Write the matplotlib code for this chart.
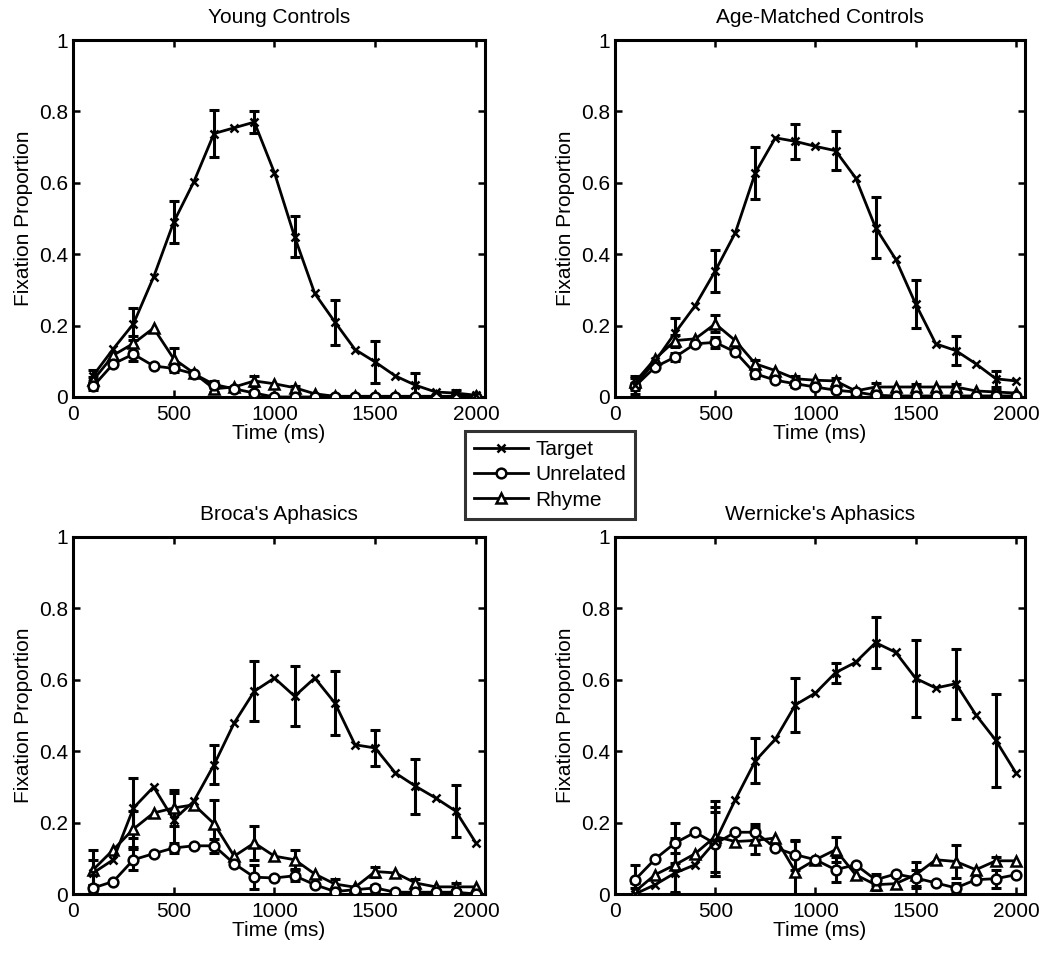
import numpy as np
import matplotlib
matplotlib.use("Agg")
import matplotlib.pyplot as plt
from matplotlib.lines import Line2D

plt.rcParams['font.family'] = ['Liberation Sans', 'DejaVu Sans']

time_ms = np.arange(100, 2001, 100)
titles = ["Young Controls", "Age-Matched Controls", "Broca's Aphasics", "Wernicke's Aphasics"]
series_names = ["Target", "Unrelated", "Rhyme"]
xticks = [0, 500, 1000, 1500, 2000]
yticks = [0, 0.2, 0.4, 0.6, 0.8, 1]
ytick_labels = ["0", "0.2", "0.4", "0.6", "0.8", "1"]

# ---- Young Controls ----
young_target = [0.06, 0.135, 0.205, 0.336, 0.49, 0.603, 0.738, 0.754, 0.77, 0.628,
                0.449, 0.29, 0.21, 0.133, 0.098, 0.059, 0.033, 0.014, 0.011, 0.005]
young_target_err = [0.015, 0, 0.045, 0, 0.06, 0, 0.065, 0, 0.03, 0,
                    0.058, 0, 0.063, 0, 0.06, 0, 0.035, 0, 0.01, 0]
young_unrel = [0.03, 0.093, 0.12, 0.087, 0.08, 0.065, 0.035, 0.023, 0.011, 0.0,
               0.0, 0.0, 0.0, 0.0, 0.0, 0.0, 0.0, 0.0, 0.0, 0.0]
young_unrel_err = [0.01, 0, 0.02, 0, 0.01, 0, 0.01, 0, 0.005, 0,
                   0.003, 0, 0.003, 0, 0.003, 0, 0.003, 0, 0.003, 0]
young_rhyme = [0.047, 0.117, 0.15, 0.193, 0.107, 0.067, 0.023, 0.028, 0.045, 0.037,
               0.026, 0.009, 0.002, 0.002, 0.002, 0.002, 0.002, 0.002, 0.002, 0.002]
young_rhyme_err = [0.01, 0, 0.02, 0, 0.03, 0, 0.01, 0, 0.015, 0,
                   0.005, 0, 0.003, 0, 0.003, 0, 0.003, 0, 0.003, 0]

# ---- Age-Matched Controls ----
age_target = [0.033, 0.10, 0.18, 0.256, 0.353, 0.46, 0.628, 0.726, 0.716, 0.702,
              0.69, 0.614, 0.474, 0.386, 0.26, 0.149, 0.13, 0.093, 0.051, 0.045]
age_target_err = [0.025, 0, 0.04, 0, 0.06, 0, 0.072, 0, 0.05, 0,
                  0.055, 0, 0.086, 0, 0.067, 0, 0.04, 0, 0.023, 0]
age_unrel = [0.03, 0.084, 0.112, 0.149, 0.153, 0.126, 0.065, 0.047, 0.037, 0.028,
             0.019, 0.014, 0.005, 0.003, 0.003, 0.003, 0.003, 0.003, 0.003, 0.003]
age_unrel_err = [0.01, 0, 0.01, 0, 0.015, 0, 0.012, 0, 0.008, 0,
                 0.005, 0, 0.003, 0, 0.003, 0, 0.003, 0, 0.003, 0]
age_rhyme = [0.042, 0.107, 0.158, 0.163, 0.205, 0.158, 0.093, 0.074, 0.051, 0.047,
             0.045, 0.017, 0.028, 0.028, 0.028, 0.028, 0.028, 0.017, 0.014, 0.011]
age_rhyme_err = [0.01, 0, 0.015, 0, 0.024, 0, 0.012, 0, 0.008, 0,
                 0.008, 0, 0.01, 0, 0.008, 0, 0.008, 0, 0.006, 0]

# ---- Broca's Aphasics ----
broca_target = [0.059, 0.096, 0.241, 0.30, 0.208, 0.26, 0.362, 0.479, 0.568, 0.605,
                0.554, 0.605, 0.535, 0.418, 0.409, 0.339, 0.302, 0.269, 0.232, 0.143]
broca_target_err = [0.035, 0, 0.085, 0, 0.075, 0, 0.055, 0, 0.084, 0,
                    0.084, 0, 0.09, 0, 0.051, 0, 0.077, 0, 0.073, 0]
broca_unrel = [0.017, 0.035, 0.096, 0.113, 0.129, 0.135, 0.135, 0.085, 0.047, 0.045,
               0.051, 0.026, 0.007, 0.012, 0.017, 0.005, 0.005, 0.005, 0.005, 0.0]
broca_unrel_err = [0.008, 0, 0.03, 0, 0.015, 0, 0.02, 0, 0.033, 0,
                   0.015, 0, 0.008, 0, 0.008, 0, 0.005, 0, 0.005, 0]
broca_rhyme = [0.068, 0.124, 0.182, 0.227, 0.241, 0.25, 0.197, 0.106, 0.143, 0.106,
               0.096, 0.056, 0.028, 0.019, 0.063, 0.059, 0.031, 0.02, 0.02, 0.02]
broca_rhyme_err = [0.055, 0, 0.05, 0, 0.05, 0, 0.065, 0, 0.047, 0,
                   0.027, 0, 0.015, 0, 0.014, 0, 0.012, 0, 0.01, 0]

# ---- Wernicke's Aphasics ----
wern_target = [0.0, 0.026, 0.059, 0.082, 0.147, 0.264, 0.373, 0.434, 0.53, 0.563,
               0.62, 0.649, 0.704, 0.677, 0.604, 0.577, 0.589, 0.502, 0.43, 0.339]
wern_target_err = [0.03, 0, 0.055, 0, 0.097, 0, 0.063, 0, 0.075, 0,
                   0.028, 0, 0.071, 0, 0.107, 0, 0.098, 0, 0.13, 0]
wern_unrel = [0.04, 0.098, 0.143, 0.173, 0.141, 0.173, 0.173, 0.129, 0.11, 0.096,
              0.068, 0.082, 0.04, 0.056, 0.045, 0.031, 0.017, 0.04, 0.043, 0.054]
wern_unrel_err = [0.04, 0, 0.056, 0, 0.09, 0, 0.022, 0, 0.042, 0,
                  0.035, 0, 0.015, 0, 0.023, 0, 0.015, 0, 0.025, 0]
wern_rhyme = [0.007, 0.054, 0.082, 0.113, 0.161, 0.147, 0.15, 0.157, 0.063, 0.096,
              0.124, 0.054, 0.026, 0.029, 0.054, 0.096, 0.091, 0.068, 0.093, 0.093]
wern_rhyme_err = [0.01, 0, 0.075, 0, 0.1, 0, 0.037, 0, 0.085, 0,
                  0.035, 0, 0.015, 0, 0.037, 0, 0.047, 0, 0.012, 0]

panels = [
    (young_target, young_target_err, young_unrel, young_unrel_err, young_rhyme, young_rhyme_err),
    (age_target, age_target_err, age_unrel, age_unrel_err, age_rhyme, age_rhyme_err),
    (broca_target, broca_target_err, broca_unrel, broca_unrel_err, broca_rhyme, broca_rhyme_err),
    (wern_target, wern_target_err, wern_unrel, wern_unrel_err, wern_rhyme, wern_rhyme_err),
]

W, H = 1050, 957
fig = plt.figure(figsize=(W / 100, H / 100), dpi=100)

ax_px = [(73, 40, 485, 397), (615, 40, 1025, 397), (73, 537, 485, 894), (615, 537, 1025, 894)]

markers = ['x', 'o', '^']
msizes = [6, 7, 7.5]
lw = 2.0
fs = 15

for (l, t, r, b), title, data in zip(ax_px, titles, panels):
    ax = fig.add_axes([l / W, 1 - b / H, (r - l) / W, (b - t) / H])
    for k in range(3):
        y = np.array(data[2 * k], dtype=float)
        e = np.array(data[2 * k + 1], dtype=float)
        mask = e > 0
        ax.errorbar(time_ms[mask], y[mask], yerr=e[mask], fmt='none', ecolor='black',
                    elinewidth=2.2, capsize=3.5, capthick=2.2, zorder=2)
    for k in range(2, -1, -1):
        y = np.array(data[2 * k], dtype=float)
        ax.plot(time_ms, y, color='black', lw=lw, marker=markers[k], ms=msizes[k],
                mfc='white' if k > 0 else 'black', mec='black', mew=1.8, zorder=3 + (2 - k))
    ax.set_xlim(0, 2045)
    ax.set_ylim(0, 1)
    ax.set_xticks(xticks)
    ax.set_yticks(yticks)
    ax.set_yticklabels(ytick_labels)
    ax.tick_params(direction='in', top=True, right=True, length=5, width=1.8,
                   labelsize=fs)
    ax.tick_params(axis='x', pad=6)
    ax.tick_params(axis='y', pad=3.5)
    for s in ax.spines.values():
        s.set_linewidth(2.2)
    ax.set_title(title, fontsize=fs, pad=12)
    ax.set_xlabel("Time (ms)", fontsize=fs, labelpad=0)
    ax.set_ylabel("Fixation Proportion", fontsize=fs, labelpad=4)

handles = [Line2D([], [], color='black', lw=lw, marker=markers[k], ms=msizes[k],
                  mfc='white' if k > 0 else 'black', mec='black', mew=1.8)
           for k in range(3)]
leg = fig.legend(handles, series_names, loc='center', bbox_to_anchor=(550 / W, 1 - 475 / H),
                 fontsize=fs, frameon=True, fancybox=False, edgecolor='black',
                 handlelength=2.6, borderpad=0.45, labelspacing=0.3, handletextpad=0.35)
leg.get_frame().set_linewidth(2.2)

fig.savefig("out.png", dpi=100, facecolor='white')
